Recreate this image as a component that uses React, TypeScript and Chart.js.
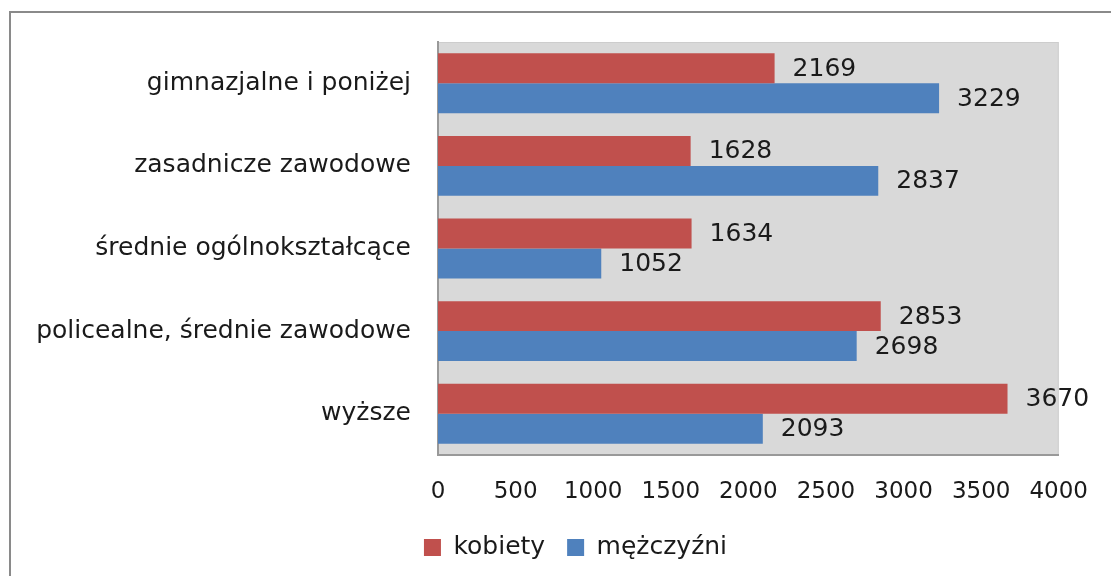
import React, { useEffect, useRef } from "react";
import { Chart, registerables } from "chart.js";

Chart.register(...registerables);

const categories = [
  "gimnazjalne i poniżej",
  "zasadnicze zawodowe",
  "średnie ogólnokształcące",
  "policealne, średnie zawodowe",
  "wyższe",
];
const kobiety = [2169, 1628, 1634, 2853, 3670];
const mezczyzni = [3229, 2837, 1052, 2698, 2093];
const seriesNames = ["kobiety", "mężczyźni"];
const xMin = 0;
const xMax = 4000;
const xStep = 500;

const FONT = "'DejaVu Sans', sans-serif";
const FS = 25;
const FS_TICK = 23;
const TEXT = "#1a1a1a";
const LEGEND_SHIFT = 44;

const plotBg = {
  id: "plotBg",
  beforeDraw(chart: any) {
    const { ctx, chartArea: a } = chart;
    ctx.save();
    ctx.fillStyle = "#D9D9D9";
    ctx.fillRect(a.left, a.top, a.right - a.left, a.bottom - a.top);
    ctx.strokeStyle = "#CDCDCD";
    ctx.lineWidth = 1;
    ctx.strokeRect(a.left + 0.5, a.top + 0.5, a.right - a.left - 1, a.bottom - a.top - 1);
    ctx.restore();
  },
};

const legendShift = {
  id: "legendShift",
  afterLayout(chart: any) {
    if (chart.legend) {
      chart.legend.left += LEGEND_SHIFT;
      chart.legend.right += LEGEND_SHIFT;
    }
  },
};

const valueLabels = {
  id: "valueLabels",
  afterDatasetsDraw(chart: any) {
    const { ctx } = chart;
    ctx.save();
    ctx.font = `${FS}px ${FONT}`;
    ctx.fillStyle = TEXT;
    ctx.textAlign = "left";
    ctx.textBaseline = "middle";
    chart.data.datasets.forEach((ds: any, i: number) => {
      const meta = chart.getDatasetMeta(i);
      meta.data.forEach((bar: any, j: number) => {
        ctx.fillText(String(ds.data[j]), bar.x + 18, bar.y + 1);
      });
    });
    ctx.restore();
  },
};

export default function App() {
  const ref = useRef<HTMLCanvasElement>(null);
  useEffect(() => {
    if (!ref.current) return;
    const chart = new Chart(ref.current, {
      type: "bar",
      data: {
        labels: categories,
        datasets: [
          {
            label: seriesNames[0],
            data: kobiety,
            backgroundColor: "#C0504D",
            borderWidth: 0,
            categoryPercentage: 0.725,
            barPercentage: 1,
          },
          {
            label: seriesNames[1],
            data: mezczyzni,
            backgroundColor: "#4F81BD",
            borderWidth: 0,
            categoryPercentage: 0.725,
            barPercentage: 1,
          },
        ],
      },
      options: {
        indexAxis: "y",
        responsive: false,
        animation: false,
        maintainAspectRatio: false,
        layout: { padding: { top: 42, right: 48, left: 0, bottom: 6 } },
        plugins: {
          tooltip: { enabled: false },
          legend: {
            position: "bottom",
            labels: {
              boxWidth: 17,
              boxHeight: 17,
              padding: 22,
              color: TEXT,
              font: { family: FONT, size: FS },
            },
          },
        },
        scales: {
          x: {
            min: xMin,
            max: xMax,
            ticks: {
              stepSize: xStep,
              color: TEXT,
              font: { family: FONT, size: FS_TICK },
              padding: 23,
              callback: (v: any) => String(v),
            },
            grid: { display: false, drawTicks: false },
            border: { display: true, color: "#999999", width: 2 },
            afterFit(scale: any) {
              scale.height = 58;
            },
          },
          y: {
            ticks: {
              color: TEXT,
              font: { family: FONT, size: FS },
              padding: 27,
            },
            grid: { display: false, drawTicks: false },
            border: { display: true, color: "#999999", width: 2 },
            afterFit(scale: any) {
              scale.width = 438;
            },
          },
        },
      },
      plugins: [plotBg, legendShift, valueLabels],
    });
    return () => chart.destroy();
  }, []);
  return (
    <div style={{ position: "absolute", left: 0, top: 0, width: 1111, height: 576, overflow: "hidden", background: "#fff" }}>
      <div
        style={{
          position: "absolute",
          left: 9,
          top: 11,
          width: 1200,
          height: 700,
          borderLeft: "2px solid #8A8A8A",
          borderTop: "2px solid #8A8A8A",
        }}
      />
      <canvas ref={ref} width={1111} height={576} style={{ position: "absolute", left: 0, top: 0, display: "block" }} />
    </div>
  );
}
